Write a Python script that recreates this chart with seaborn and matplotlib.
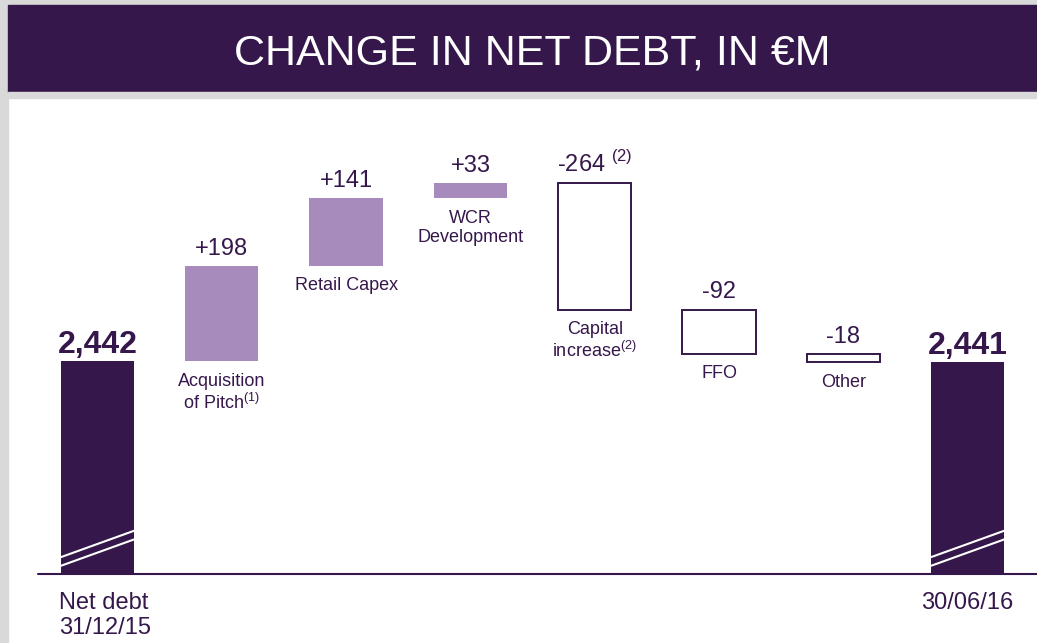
import matplotlib
matplotlib.use("Agg")
import matplotlib.pyplot as plt
from matplotlib.patches import Rectangle
import seaborn as sns
import pandas as pd

# waterfall data, in EUR m
steps = ["Net debt 31/12/15", "Acquisition of Pitch", "Retail Capex", "WCR Development",
         "Capital increase", "FFO", "Other", "Net debt 30/06/16"]
changes = [2442, 198, 141, 33, -264, -92, -18, 2441]
kinds = ["total", "up", "up", "up", "down", "down", "down", "total"]
step_labels = ["Net debt\n31/12/15", "Acquisition\nof Pitch$^{\\mathregular{(1)}}$", "Retail Capex",
               "WCR\nDevelopment", "Capital\nincrease$^{\\mathregular{(2)}}$", "FFO", "Other", "30/06/16"]
value_labels = ["2,442", "+198", "+141", "+33", "-264 $^{\\mathregular{(2)}}$", "-92", "-18", "2,441"]

DARK = "#35174b"
LIGHT = "#a68bbc"
GREY = "#d9d9d9"
styles = {
    "total": dict(facecolor=DARK, edgecolor=DARK, linewidth=0),
    "up": dict(facecolor=LIGHT, edgecolor=LIGHT, linewidth=0),
    "down": dict(facecolor="white", edgecolor=DARK, linewidth=1.4),
}

# running bottoms for the waterfall
bottoms, heights = [], []
level = 0
for c, k in zip(changes, kinds):
    if k == "total":
        bottoms.append(0)
        heights.append(c)
        level = c
    else:
        bottoms.append(level)
        heights.append(c)
        level += c

df = pd.DataFrame({"step": steps, "height": heights, "bottom": bottoms, "kind": kinds})

sns.set_style("white")
plt.rcParams["font.family"] = ["Liberation Sans", "DejaVu Sans"]

W, H = 1037, 643
fig = plt.figure(figsize=(W / 100, H / 100), dpi=100)


def fx(px):
    return px / W


def fy(py):
    return 1 - py / H


# frame + title band
fig.add_artist(Rectangle((0, 0), fx(8), 1, transform=fig.transFigure, color=GREY, zorder=0))
fig.add_artist(Rectangle((0, fy(5)), 1, 5 / H, transform=fig.transFigure, color=GREY, zorder=0))
fig.add_artist(Rectangle((fx(8), fy(92)), 1 - fx(8), 87 / H, transform=fig.transFigure, color=DARK, zorder=0))
fig.add_artist(Rectangle((fx(8), fy(98)), 1 - fx(8), 6 / H, transform=fig.transFigure, color=GREY, zorder=0))
fig.text(fx(532), fy(65), "CHANGE IN NET DEBT, IN €M", color="white", fontsize=31,
         ha="center", va="baseline")

ax = fig.add_axes([fx(8), fy(574), 1 - fx(8), (574 - 98) / H])
ax.set_facecolor("none")

bar_w = 0.59
sns.barplot(data=df, x="step", y="height", bottom=df["bottom"], width=bar_w,
            color=LIGHT, errorbar=None, saturation=1, ax=ax)

for patch, k in zip(ax.patches, kinds):
    patch.set(**styles[k])

y_base = 2000
ax.set_ylim(y_base, 2990)
ax.set_xlim(-0.72, 7.558)
ax.axis("off")
ax.axhline(y_base, xmin=30 / 1029, xmax=1, color=DARK, lw=1.5, clip_on=False, zorder=3)

for i, (b, h, k) in enumerate(zip(bottoms, heights, kinds)):
    top = max(b, b + h)
    low = min(b, b + h)
    if k == "total":
        ax.annotate(value_labels[i], (i, top), xytext=(0, 6), textcoords="offset points",
                    ha="center", va="baseline", fontsize=23, fontweight="bold", color=DARK)
        # broken-axis marks
        for off in (0, 18):
            ax.plot([i - bar_w / 2, i + bar_w / 2], [y_base + 17 + off, y_base + 72 + off],
                    color="white", lw=1.5, zorder=4, solid_capstyle="butt")
        if i == 0:
            ax.annotate(step_labels[i], (i - bar_w / 2, y_base), xytext=(-1, -13),
                        textcoords="offset points", ha="left", va="top", fontsize=17,
                        color=DARK, linespacing=1.15, annotation_clip=False)
        else:
            ax.annotate(step_labels[i], (i, y_base), xytext=(0, -13),
                        textcoords="offset points", ha="center", va="top", fontsize=17,
                        color=DARK, annotation_clip=False)
    else:
        ax.annotate(value_labels[i], (i, top), xytext=(0, 8), textcoords="offset points",
                    ha="center", va="baseline", fontsize=17, color=DARK)
        ax.annotate(step_labels[i], (i, low), xytext=(0, -8), textcoords="offset points",
                    ha="center", va="top", fontsize=13, color=DARK, linespacing=1.2)

fig.savefig("out.png", dpi=100)
